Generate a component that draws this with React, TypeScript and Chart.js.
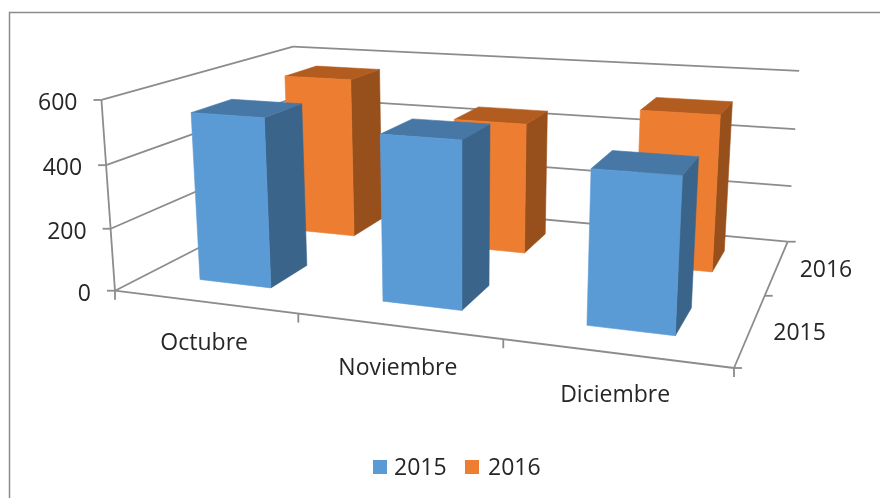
import React, { useEffect, useRef } from "react";
import { Chart, registerables } from "chart.js";

Chart.register(...registerables);

const categories = ["Octubre", "Noviembre", "Diciembre"];
const seriesNames = ["2015", "2016"];
const values2015 = [540, 515, 460];
const values2016 = [560, 445, 515];
const yTicks = { min: 0, max: 600, step: 200 };

const FONT = '"Open Sans", sans-serif';
const FONT_SIZE = 23;
const TEXT = "#262626";
const LINE = "#8c8c8c";
const BAR_FRACTION = 0.4;
const FACES = [
  { front: "#5b9bd5", top: "#4677a5", side: "#3a6489" },
  { front: "#ed7d31", top: "#b35c20", side: "#97501b" },
];
const LEGEND_BOX_X = [373, 465];
const LEGEND_TEXT_X = [394, 488];
const LEGEND_Y = 467;

// Camera: the unit floor square and the vertical vanishing point of the 3-D view
const FL = [115, 290.7];
const FR = [734, 368];
const BR = [787.7, 241.7];
const BL = [298, 197];
const VANISH = [460, 5146];
const LIFT = -0.0378;

function makeProjector() {
  const dx1 = FR[0] - BR[0], dy1 = FR[1] - BR[1];
  const dx2 = BL[0] - BR[0], dy2 = BL[1] - BR[1];
  const sx = FL[0] - FR[0] + BR[0] - BL[0], sy = FL[1] - FR[1] + BR[1] - BL[1];
  const det = dx1 * dy2 - dx2 * dy1;
  const g = (sx * dy2 - dx2 * sy) / det;
  const h = (dx1 * sy - sx * dy1) / det;
  const a = FR[0] - FL[0] + g * FR[0], b = BL[0] - FL[0] + h * BL[0];
  const d = FR[1] - FL[1] + g * FR[1], e = BL[1] - FL[1] + h * BL[1];
  return (u: number, v: number, w: number): [number, number] => {
    const den = g * u + h * w + 1 + LIFT * v;
    return [
      (a * u + b * w + FL[0] + LIFT * v * VANISH[0]) / den,
      (d * u + e * w + FL[1] + LIFT * v * VANISH[1]) / den,
    ];
  };
}

const project = makeProjector();

function line(ctx: CanvasRenderingContext2D, p: number[], q: number[]) {
  ctx.beginPath();
  ctx.moveTo(p[0], p[1]);
  ctx.lineTo(q[0], q[1]);
  ctx.stroke();
}

function poly(ctx: CanvasRenderingContext2D, pts: number[][], color: string) {
  ctx.fillStyle = color;
  ctx.strokeStyle = color;
  ctx.lineWidth = 0.6;
  ctx.beginPath();
  pts.forEach((p, i) => (i ? ctx.lineTo(p[0], p[1]) : ctx.moveTo(p[0], p[1])));
  ctx.closePath();
  ctx.fill();
  ctx.stroke();
}

const view3d = {
  id: "view3d",
  beforeDatasetsDraw(chart: any) {
    const { ctx, chartArea: area, scales } = chart;
    const { x: xs, y: ys, z: zs } = scales;
    const toU = (px: number) => (px - area.left) / area.width;
    const toV = (px: number) => (area.bottom - px) / area.height;
    const toW = (i: number) => zs.getDecimalForPixel(zs.getPixelForValue(i));

    ctx.save();
    // frame
    ctx.strokeStyle = LINE;
    ctx.lineWidth = 1.5;
    ctx.strokeRect(9.5, 12.5, 880, 500);

    // walls, floor, grid
    ctx.strokeStyle = LINE;
    ctx.lineWidth = 1.8;
    ys.ticks.forEach((t: any) => {
      const v = toV(ys.getPixelForValue(t.value));
      const front = project(0, v, 0);
      line(ctx, [front[0] - 8, front[1]], front);
      line(ctx, front, project(0, v, 1));
      line(ctx, project(0, v, 1), project(1, v, 1));
    });
    line(ctx, project(0, 0, 0), project(0, 1, 0));
    line(ctx, project(0, 0, 0), project(1, 0, 0));
    line(ctx, project(1, 0, 0), project(1, 0, 1));
    for (let i = 0; i <= categories.length; i++) {
      const p = project(i / categories.length, 0, 0);
      line(ctx, p, [p[0], p[1] + 9]);
    }
    for (let i = 0; i <= seriesNames.length; i++) {
      const p = project(1, 0, i / seriesNames.length);
      line(ctx, p, [p[0] + 8, p[1]]);
    }

    // bars, back row first
    for (let k = seriesNames.length - 1; k >= 0; k--) {
      const meta = chart.getDatasetMeta(k);
      const halfDepth = BAR_FRACTION / seriesNames.length / 2;
      const w0 = toW(k) - halfDepth;
      const w1 = toW(k) + halfDepth;
      meta.data.forEach((bar: any) => {
        const u0 = toU(bar.x - bar.width / 2);
        const u1 = toU(bar.x + bar.width / 2);
        const v = toV(bar.y);
        const c = FACES[k];
        poly(ctx, [project(u1, 0, w0), project(u1, 0, w1), project(u1, v, w1), project(u1, v, w0)], c.side);
        poly(ctx, [project(u0, v, w0), project(u1, v, w0), project(u1, v, w1), project(u0, v, w1)], c.top);
        poly(ctx, [project(u0, 0, w0), project(u1, 0, w0), project(u1, v, w0), project(u0, v, w0)], c.front);
      });
    }

    // labels
    ctx.font = `${FONT_SIZE}px ${FONT}`;
    ctx.textBaseline = "middle";
    ctx.fillStyle = TEXT;
    ctx.textAlign = "right";
    ys.ticks.forEach((t: any) => {
      const p = project(0, toV(ys.getPixelForValue(t.value)), 0);
      ctx.fillText(String(t.value), p[0] - 24, p[1] + 3.5);
    });
    ctx.textAlign = "center";
    categories.forEach((name, i) => {
      const p = project(toU(xs.getPixelForValue(i)), 0, 0);
      ctx.fillText(name, p[0], p[1] + 42);
    });
    seriesNames.forEach((name, i) => {
      const p = project(1, 0, toW(i));
      ctx.fillText(name, p[0] + 49, p[1] + 4);
    });

    // legend
    ctx.textAlign = "left";
    seriesNames.forEach((name, i) => {
      ctx.fillStyle = FACES[i].front;
      ctx.fillRect(LEGEND_BOX_X[i], LEGEND_Y - 7, 14, 14);
      ctx.fillStyle = TEXT;
      ctx.fillText(name, LEGEND_TEXT_X[i], LEGEND_Y + 1.5);
    });
    ctx.restore();
    return false;
  },
};

export default function App() {
  const ref = useRef<HTMLCanvasElement | null>(null);
  useEffect(() => {
    const chart = new Chart(ref.current as HTMLCanvasElement, {
      type: "bar",
      data: {
        labels: categories,
        datasets: [
          { label: seriesNames[0], data: values2015, backgroundColor: FACES[0].front },
          { label: seriesNames[1], data: values2016, backgroundColor: FACES[1].front },
        ],
      },
      options: {
        responsive: false,
        animation: false,
        datasets: { bar: { grouped: false, categoryPercentage: BAR_FRACTION, barPercentage: 1 } },
        scales: {
          x: { display: false },
          y: { display: false, min: yTicks.min, max: yTicks.max, ticks: { stepSize: yTicks.step } },
          z: { type: "category", axis: "x", labels: seriesNames, display: false, offset: true },
        },
        plugins: {
          tooltip: { enabled: false },
          legend: { display: false },
        },
      },
      plugins: [view3d],
    } as any);
    return () => chart.destroy();
  }, []);
  return (
    <canvas
      ref={ref}
      width={880}
      height={498}
      style={{ position: "fixed", left: 0, top: 0, display: "block", background: "#fff" }}
    />
  );
}
